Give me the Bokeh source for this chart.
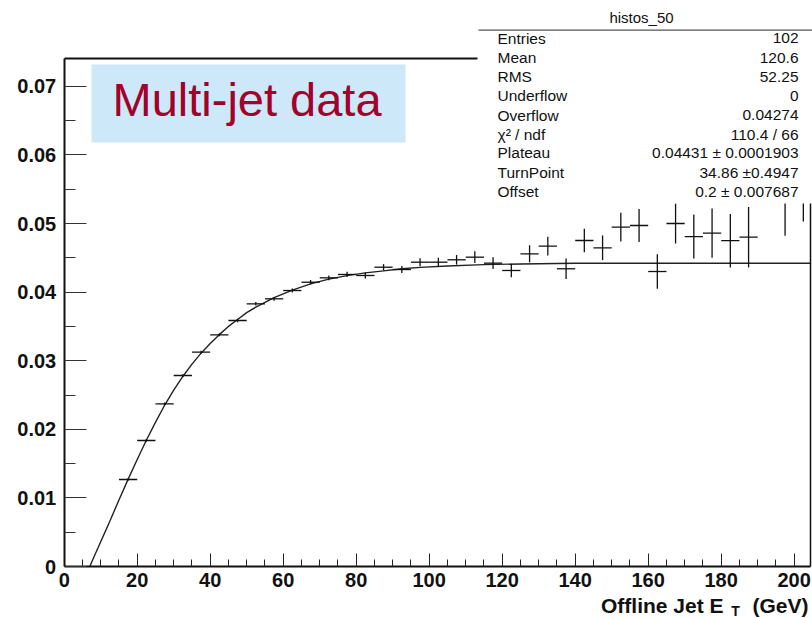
from bokeh.plotting import figure
from bokeh.models import ColumnDataSource, FixedTicker, Label, BoxAnnotation, Range1d, LinearAxis
from bokeh.embed import file_html
from bokeh.resources import INLINE

# ---------------- data ----------------
bin_centers = [17.5, 22.5, 27.5, 32.5, 37.5, 42.5, 47.5, 52.5, 57.5, 62.5,
               67.5, 72.5, 77.5, 82.5, 87.5, 92.5, 97.5, 102.5, 107.5, 112.5,
               117.5, 122.5, 127.5, 132.5, 137.5, 142.5, 147.5, 152.5, 157.5, 162.5,
               167.5, 172.5, 177.5, 182.5, 187.5, 197.5, 202.5]
bin_half_width = 2.5
counts = [0.01268, 0.01837, 0.02372, 0.02784, 0.03124, 0.03377, 0.03586, 0.03829, 0.03902, 0.04023,
          0.04144, 0.04208, 0.04257, 0.04242, 0.04363, 0.04329, 0.04436, 0.04436, 0.04471, 0.04509,
          0.04422, 0.04315, 0.04558, 0.04670, 0.04340, 0.04752, 0.04646, 0.04947, 0.04971, 0.04300,
          0.05000, 0.04810, 0.04860, 0.04750, 0.04800, 0.05320, 0.05530]
errors = [0.00018, 0.00020, 0.00020, 0.00020, 0.00022, 0.00022, 0.00025, 0.00026, 0.00028, 0.00030,
          0.00032, 0.00035, 0.00038, 0.00045, 0.00045, 0.00050, 0.00058, 0.00063, 0.00070, 0.00085,
          0.00085, 0.00100, 0.00125, 0.00138, 0.00150, 0.00170, 0.00180, 0.00210, 0.00240, 0.00250,
          0.00290, 0.00320, 0.00360, 0.00390, 0.00440, 0.00500, 0.00500]

fit_x = [7.0, 10.0, 12.5, 15.0, 17.5, 20.0, 22.5, 25.0, 27.5, 30.0, 32.5, 35.0, 37.5, 40.0,
         42.5, 45.0, 47.5, 50.0, 52.5, 57.5, 62.5, 67.5, 72.5, 77.5, 82.5, 87.5, 92.5, 97.5,
         105.0, 115.0, 125.0, 140.0, 160.0, 204.5]
fit_y = [0.0, 0.0036, 0.0066, 0.0097, 0.0127, 0.0156, 0.0184, 0.0210, 0.0235, 0.0257, 0.0277, 0.0295,
         0.0311, 0.0325, 0.0338, 0.0350, 0.0360, 0.0370, 0.0378, 0.0392, 0.0403, 0.0412, 0.0419,
         0.0424, 0.0428, 0.0431, 0.0434, 0.0436, 0.0438, 0.0440, 0.0441, 0.0442, 0.0442, 0.0442]

x_ticks = [0, 20, 40, 60, 80, 100, 120, 140, 160, 180, 200]
x_minor_ticks = [5, 10, 15, 25, 30, 35, 45, 50, 55, 65, 70, 75, 85, 90, 95, 105, 110, 115,
                 125, 130, 135, 145, 150, 155, 165, 170, 175, 185, 190, 195]
y_ticks = [0.0, 0.01, 0.02, 0.03, 0.04, 0.05, 0.06, 0.07]
y_tick_labels = ["0", "0.01", "0.02", "0.03", "0.04", "0.05", "0.06", "0.07"]
y_minor_ticks = [0.005, 0.015, 0.025, 0.035, 0.045, 0.055, 0.065]
x_axis_max = 204.6
y_axis_max = 0.07405

stats_title = "histos_50"
stats_names = ["Entries", "Mean", "RMS", "Underflow", "Overflow", "\u03c7\u00b2 / ndf",
               "Plateau", "TurnPoint", "Offset"]
stats_values = ["102", "120.6", "52.25", "0", "0.04274", "110.4 / 66",
                "0.04431 \u00b1 0.0001903", "34.86 \u00b10.4947", "0.2 \u00b1 0.007687"]
box_text = "Multi-jet data"
x_title_main = "Offline Jet E"
x_title_sub = "T"
x_title_unit = "(GeV)"

# ---------------- layout (pixel geometry of the canvas) ----------------
W, H = 812, 618
X0_PX, Y0_PX = 63.7, 566.0      # pixel position of data origin
SX, SY = 3.65, 6860.0           # pixels per data unit
FONT = "Liberation Sans"


def dx(ix):
    return (ix - X0_PX) / SX


def dy(iy):
    return (Y0_PX - iy) / SY


p = figure(width=W, height=H,
           x_range=Range1d(dx(0), dx(W)), y_range=Range1d(dy(H), dy(0)),
           output_backend="svg", toolbar_location=None,
           min_border=0, min_border_left=0, min_border_right=0,
           min_border_top=0, min_border_bottom=0)
p.background_fill_color = "white"
p.border_fill_color = "white"
p.outline_line_color = None
p.xgrid.visible = False
p.ygrid.visible = False

xa = p.xaxis[0]
xa.fixed_location = 0
xa.bounds = (0, x_axis_max)
xa.ticker = FixedTicker(ticks=x_ticks, minor_ticks=x_minor_ticks)
xa.axis_line_width = 2
xa.axis_line_color = "#111111"
xa.major_tick_in = 13
xa.major_tick_out = 0
xa.minor_tick_in = 7
xa.minor_tick_out = 0
xa.major_tick_line_color = "#222222"
xa.minor_tick_line_color = "#222222"
xa.major_label_text_font = FONT
xa.major_label_text_font_style = "bold"
xa.major_label_text_font_size = "20px"
xa.major_label_text_color = "#111111"
xa.major_label_standoff = 6

ya = p.yaxis[0]
ya.fixed_location = 0
ya.bounds = (0, y_axis_max)
ya.ticker = FixedTicker(ticks=y_ticks, minor_ticks=y_minor_ticks)
ya.major_label_overrides = {t: l for t, l in zip(y_ticks, y_tick_labels)}
ya.axis_line_width = 2
ya.axis_line_color = "#111111"
ya.major_tick_in = 22
ya.major_tick_out = 0
ya.minor_tick_in = 11
ya.minor_tick_out = 0
ya.major_tick_line_color = "#333333"
ya.minor_tick_line_color = "#333333"
ya.major_label_text_font = FONT
ya.major_label_text_font_style = "bold"
ya.major_label_text_font_size = "20px"
ya.major_label_text_color = "#111111"
ya.major_label_standoff = 8

# frame top and right edges as bare axes
top_axis = LinearAxis(fixed_location=y_axis_max, bounds=(0, x_axis_max),
                      ticker=FixedTicker(ticks=[]), major_label_text_font_size="0px",
                      major_tick_in=0, major_tick_out=0, minor_tick_in=0, minor_tick_out=0,
                      axis_line_width=2, axis_line_color="#111111")
p.add_layout(top_axis, "above")
right_axis = LinearAxis(fixed_location=x_axis_max, bounds=(0, y_axis_max),
                        ticker=FixedTicker(ticks=[]), major_label_text_font_size="0px",
                        major_tick_in=0, major_tick_out=0, minor_tick_in=0, minor_tick_out=0,
                        axis_line_width=1.5, axis_line_color="#111111")
p.add_layout(right_axis, "right")

# fit curve
p.line(fit_x, fit_y, line_color="#222222", line_width=1.4)

# data points with error bars
src = ColumnDataSource(dict(
    x=bin_centers, y=counts,
    xl=[c - bin_half_width for c in bin_centers],
    xr=[c + bin_half_width for c in bin_centers],
    ylo=[v - e for v, e in zip(counts, errors)],
    yhi=[v + e for v, e in zip(counts, errors)],
))
p.segment(x0="xl", x1="xr", y0="y", y1="y", source=src, line_color="#111111", line_width=1.3)
p.segment(x0="x", x1="x", y0="ylo", y1="yhi", source=src, line_color="#111111", line_width=1.3)

# "Multi-jet data" box
p.add_layout(BoxAnnotation(left=dx(91), right=dx(405), top=dy(64), bottom=dy(142),
                           fill_color="#cce8f9", fill_alpha=1.0, line_color=None))
p.add_layout(Label(x=dx(112), y=dy(98.5), text=box_text, text_font=FONT,
                   text_font_size="47px", text_color="#a3002a",
                   text_align="left", text_baseline="middle"))

# stats box
p.add_layout(BoxAnnotation(left=dx(477), right=dx(W), top=dy(0), bottom=dy(203),
                           fill_color="white", fill_alpha=1.0, line_color=None, level="overlay"))
p.add_layout(BoxAnnotation(left=dx(478), right=dx(W), top=dy(29), bottom=dy(30.3),
                           fill_color="#555555", fill_alpha=1.0, line_color=None, level="overlay"))
p.add_layout(Label(x=dx(641), y=dy(16.5), text=stats_title, text_font=FONT,
                   text_font_size="15px", text_color="#111111",
                   text_align="center", text_baseline="middle", level="overlay"))
row_y = [37.5, 57, 76, 95, 114.5, 133.5, 151.5, 172, 191]
for name, val, ry in zip(stats_names, stats_values, row_y):
    p.add_layout(Label(x=dx(497), y=dy(ry), text=name, text_font=FONT,
                       text_font_size="15.5px", text_color="#111111",
                       text_align="left", text_baseline="middle", level="overlay"))
    p.add_layout(Label(x=dx(798), y=dy(ry), text=val, text_font=FONT,
                       text_font_size="15.5px", text_color="#111111",
                       text_align="right", text_baseline="middle", level="overlay"))

# x axis title with subscript
p.add_layout(Label(x=dx(723), y=dy(604.5), text=x_title_main, text_font=FONT,
                   text_font_size="21px", text_font_style="bold", text_color="#111111",
                   text_align="right", text_baseline="middle"))
p.add_layout(Label(x=dx(735), y=dy(610), text=x_title_sub, text_font=FONT,
                   text_font_size="14px", text_font_style="bold", text_color="#111111",
                   text_align="center", text_baseline="middle"))
p.add_layout(Label(x=dx(808), y=dy(604.5), text=x_title_unit, text_font=FONT,
                   text_font_size="21px", text_font_style="bold", text_color="#111111",
                   text_align="right", text_baseline="middle"))

open("out.html", "w").write(file_html(p, INLINE))
